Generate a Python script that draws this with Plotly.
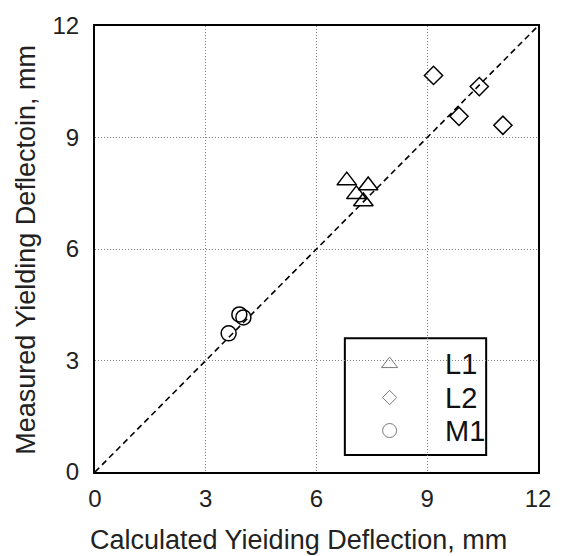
import plotly.graph_objects as go

# Calculated vs measured yielding deflection (mm) for three specimen groups
l1_calc = [6.82, 7.40, 7.08, 7.27]
l1_meas = [7.84, 7.71, 7.47, 7.28]

l2_calc = [9.17, 10.41, 9.86, 11.05]
l2_meas = [10.67, 10.37, 9.57, 9.33]

m1_calc = [3.91, 4.02, 3.62]
m1_meas = [4.24, 4.16, 3.73]

# 1:1 reference line end points
diag = [0, 12]

tick_vals = [0, 3, 6, 9, 12]
tick_text = ["0", "3", "6", "9", "12"]

series_names = ["L1", "L2", "M1"]
series_symbols = ["triangle-up-open", "diamond-open", "circle-open"]
series_sizes = [17, 14, 15]

FONT = "Liberation Sans, Arial, Helvetica, sans-serif"

fig = go.Figure()

fig.add_trace(go.Scatter(
    x=diag, y=diag, mode="lines",
    line=dict(color="black", width=1.6, dash="6px,4px"),
    showlegend=False, hoverinfo="skip",
))

data = [(l1_calc, l1_meas), (l2_calc, l2_meas), (m1_calc, m1_meas)]
for (xs, ys), name, sym, size in zip(data, series_names, series_symbols, series_sizes):
    fig.add_trace(go.Scatter(
        x=xs, y=ys, mode="markers", name=name,
        marker=dict(symbol=sym, size=size, color="black",
                    line=dict(color="black", width=1.5)),
        showlegend=False,
    ))

# Hand-built legend: framed box, sample symbols on an overlay axis, labels
leg_x0, leg_x1, leg_y0, leg_y1 = 0.564, 0.883, 0.038, 0.300
leg_sym_x = 0.665
leg_txt_x = 0.785
leg_rows = [0.242, 0.167, 0.093]
legend_sizes = [14, 11, 14]

fig.add_shape(type="rect", xref="paper", yref="paper",
              x0=leg_x0, x1=leg_x1, y0=leg_y0, y1=leg_y1,
              line=dict(color="black", width=2), fillcolor="white",
              layer="between")

for name, sym, size, ry in zip(series_names, series_symbols, legend_sizes, leg_rows):
    fig.add_trace(go.Scatter(
        x=[leg_sym_x], y=[ry], mode="markers", xaxis="x2", yaxis="y2",
        marker=dict(symbol=sym, size=size, color="#7a7a7a",
                    line=dict(color="#7a7a7a", width=1)),
        showlegend=False, hoverinfo="skip",
    ))
    fig.add_annotation(x=leg_txt_x, y=ry, xref="paper", yref="paper",
                       text=name, showarrow=False, xanchor="left",
                       yanchor="middle",
                       font=dict(family=FONT, size=29, color="#111"))

axis_common = dict(
    range=[0, 12], tickvals=tick_vals, ticktext=tick_text,
    showline=True, mirror=True, linecolor="black", linewidth=2,
    showgrid=True, gridcolor="#808080", gridwidth=1, griddash="1px,2px",
    zeroline=False, ticks="",
    tickfont=dict(family=FONT, size=24, color="#222"),
)

fig.update_layout(
    width=563, height=556,
    margin=dict(l=95, r=14, t=22, b=84),
    paper_bgcolor="white", plot_bgcolor="white",
    xaxis=dict(axis_common, ticklabelstandoff=4),
    yaxis=dict(axis_common, ticklabelstandoff=9),
    xaxis2=dict(range=[0, 1], overlaying="x", visible=False, domain=[0, 1]),
    yaxis2=dict(range=[0, 1], overlaying="y", visible=False, domain=[0, 1]),
    showlegend=False,
)

fig.add_annotation(x=0.460, y=-0.153, xref="paper", yref="paper",
                   text="Calculated Yieiding Deflection, mm", showarrow=False,
                   xanchor="center", yanchor="middle",
                   font=dict(family=FONT, size=27, color="#222"))
fig.add_annotation(x=-0.156, y=0.498, xref="paper", yref="paper",
                   text="Measured Yielding Deflectoin, mm", showarrow=False,
                   textangle=-90, xanchor="center", yanchor="middle",
                   font=dict(family=FONT, size=27, color="#222"))

fig.write_html("out.html")
